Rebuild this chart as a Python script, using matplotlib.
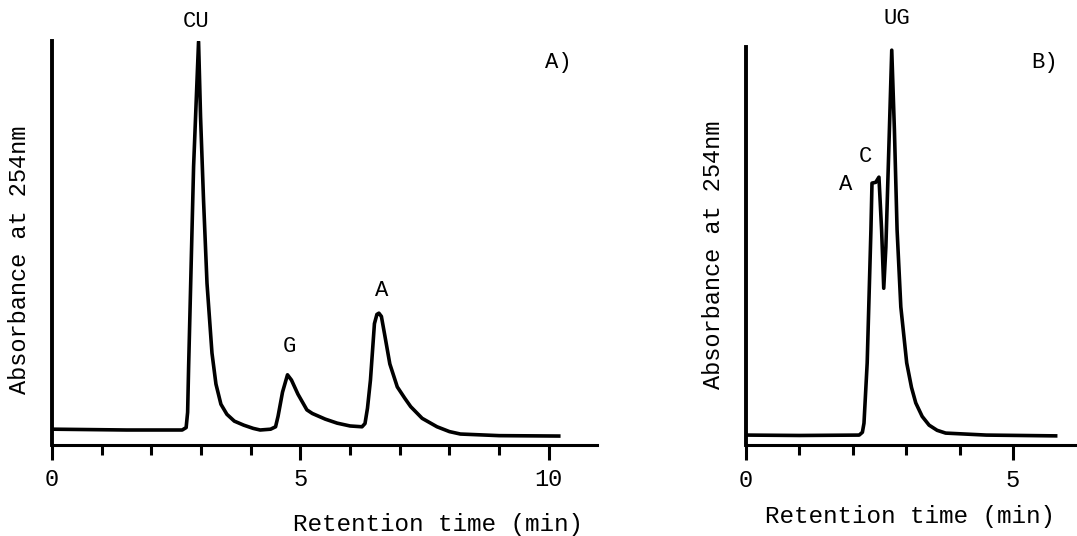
import numpy as np
import matplotlib
matplotlib.use('Agg')
import matplotlib.pyplot as plt

plt.rcParams['font.family'] = ['Liberation Mono', 'DejaVu Sans Mono']

# Panel A: retention time (min) and absorbance (arbitrary units, 100 = top of axis)
tiempo_a = [0.03, 1.5, 2.62, 2.70, 2.73, 2.75, 2.85, 2.95, 2.99, 3.05, 3.12, 3.22,
            3.30, 3.40, 3.52, 3.67, 3.86, 4.05, 4.19, 4.40, 4.50, 4.55, 4.64,
            4.74, 4.82, 4.95, 5.13, 5.24, 5.50, 5.74, 6.00, 6.24, 6.30, 6.35,
            6.41, 6.49, 6.54, 6.58, 6.63, 6.70, 6.80, 6.95, 7.10, 7.22, 7.45,
            7.75, 8.00, 8.22, 9.0, 10.2]
abs_a = [3.8, 3.6, 3.6, 4.2, 8.0, 19.3, 69.0, 100.0, 81.4, 60.7, 40.0, 22.7,
         15.0, 10.0, 7.5, 5.8, 4.8, 4.0, 3.6, 3.8, 4.4, 7.0, 13.0,
         17.3, 16.0, 12.5, 8.6, 7.7, 6.3, 5.3, 4.6, 4.4, 5.2, 9.0,
         16.0, 30.0, 32.3, 32.6, 31.8, 27.0, 20.0, 14.3, 11.5, 9.4, 6.5,
         4.4, 3.2, 2.6, 2.2, 2.1]

# Panel B
tiempo_b = [0.02, 1.0, 2.12, 2.18, 2.21, 2.27, 2.34, 2.36, 2.43, 2.49, 2.54, 2.58,
            2.62, 2.68, 2.73, 2.78, 2.83, 2.90, 3.01, 3.10, 3.18, 3.30, 3.43,
            3.58, 3.74, 4.5, 5.80]
abs_b = [2.5, 2.4, 2.5, 3.2, 5.5, 20.7, 54.2, 66.0, 66.2, 67.5, 54.2, 39.5,
         49.9, 76.8, 99.5, 79.3, 54.2, 34.8, 20.7, 14.5, 10.6, 7.2, 5.0,
         3.7, 3.0, 2.5, 2.3]

picos_a = [('CU', 2.91, 105.1), ('G', 4.77, 24.3), ('A', 6.63, 38.2)]
picos_b = [('UG', 2.83, 107.6), ('C', 2.24, 72.8), ('A', 1.87, 65.7)]

W, H = 1077, 536
fig = plt.figure(figsize=(W / 100, H / 100), dpi=100)

# pixel geometry
ax_a = fig.add_axes([52 / W, 91.5 / H, 545 / W, 404 / H])
ax_b = fig.add_axes([746 / W, 91 / H, 331 / W, 398 / H])


def estilo(ax, xmax, mayores, menores):
    ax.set_xlim(0, xmax)
    ax.set_ylim(0, 100.3)
    for lado in ['top', 'right']:
        ax.spines[lado].set_visible(False)
    ax.spines['left'].set_linewidth(2.8)
    ax.spines['bottom'].set_linewidth(2.2)
    ax.set_yticks([])
    ax.set_xticks(mayores)
    ax.set_xticks(menores, minor=True)
    ax.tick_params(axis='x', which='major', direction='out', length=11, width=2.2,
                   pad=6, labelsize=17)
    ax.tick_params(axis='x', which='minor', direction='out', length=7, width=2.2)
    ax.set_xticklabels([str(v) for v in mayores])


ax_a.plot(tiempo_a, abs_a, color='black', lw=2.6, solid_joinstyle='round')
estilo(ax_a, 10.97, [0, 5, 10], [1, 2, 3, 4, 6, 7, 8, 9])
for nombre, x, y in picos_a:
    ax_a.text(x, y, nombre, ha='center', va='center', fontsize=16, clip_on=False)

ax_b.plot(tiempo_b, abs_b, color='black', lw=2.6, solid_joinstyle='round')
estilo(ax_b, 6.2, [0, 5], [1, 2, 3, 4])
for nombre, x, y in picos_b:
    ax_b.text(x, y, nombre, ha='center', va='center', fontsize=16, clip_on=False)


def px(x, y):
    return x / W, 1 - y / H


fig.text(*px(558, 62), 'A)', ha='center', va='center', fontsize=16)
fig.text(*px(1045, 62), 'B)', ha='center', va='center', fontsize=16)
fig.text(*px(20, 260), 'Absorbance at 254nm', rotation=90, ha='center', va='center', fontsize=17)
fig.text(*px(714, 255), 'Absorbance at 254nm', rotation=90, ha='center', va='center', fontsize=17)
fig.text(*px(438, 524), 'Retention time (min)', ha='center', va='center', fontsize=17.5)
fig.text(*px(910, 517), 'Retention time (min)', ha='center', va='center', fontsize=17.5)

fig.savefig('out.png', dpi=100, facecolor='white')
